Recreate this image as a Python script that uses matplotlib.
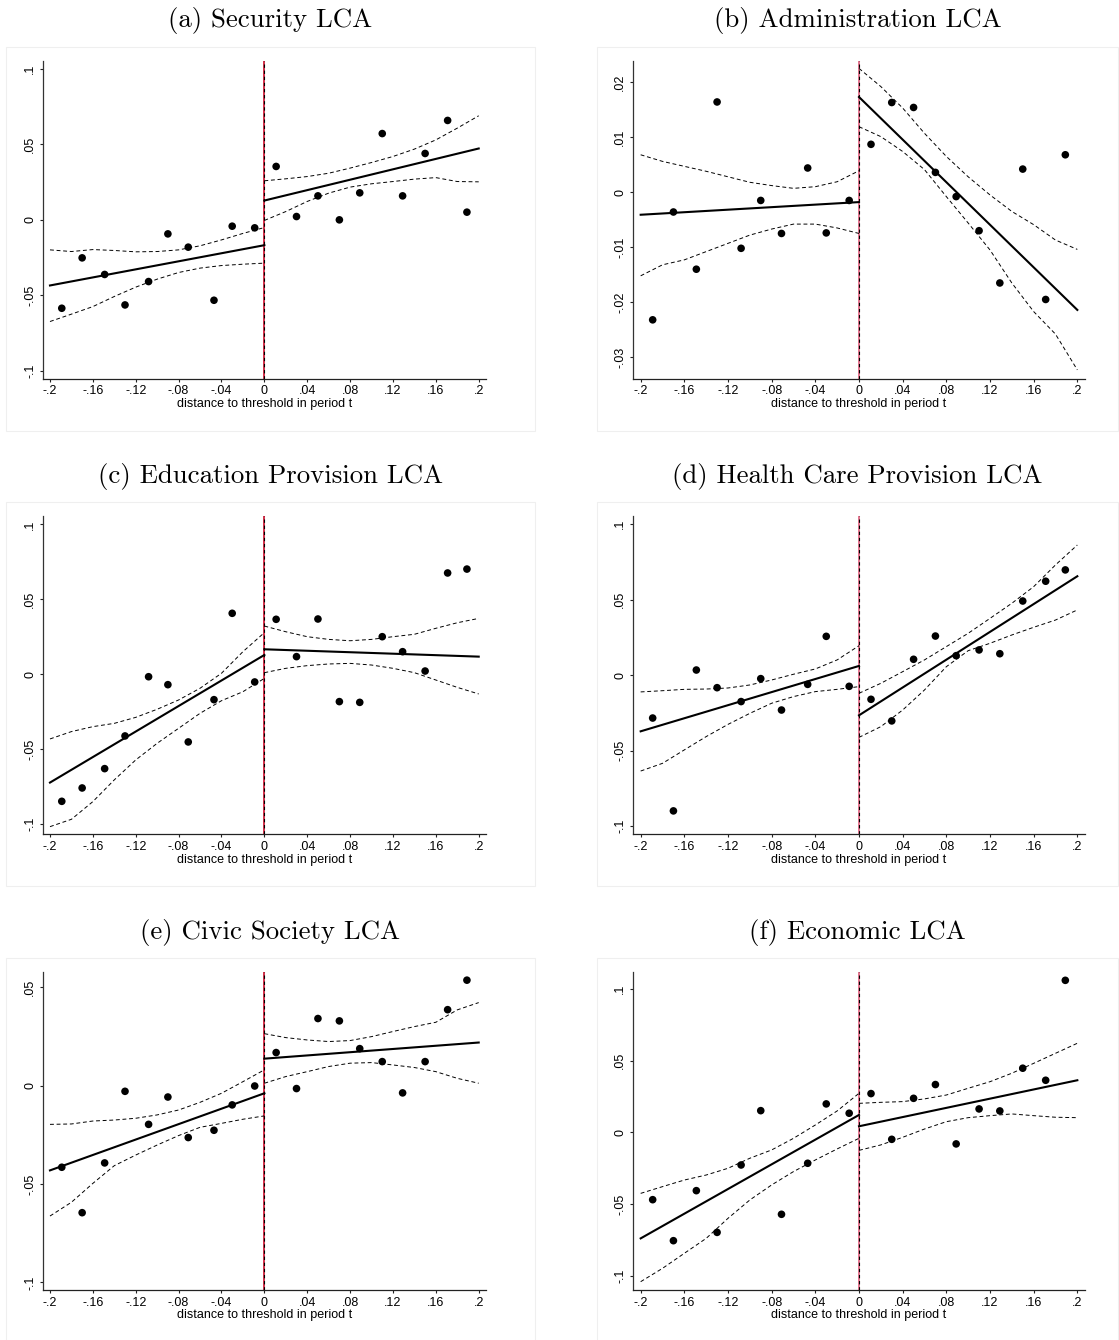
import matplotlib
matplotlib.use("Agg")
import matplotlib.pyplot as plt
from matplotlib.patches import Rectangle

# ---------------- data ----------------
titles = ["(a) Security LCA", "(b) Administration LCA", "(c) Education Provision LCA",
          "(d) Health Care Provision LCA", "(e) Civic Society LCA", "(f) Economic LCA"]
xlabel = "distance to threshold in period t"

bin_x = [-0.189, -0.170, -0.149, -0.130, -0.108, -0.090, -0.071, -0.047, -0.030, -0.009,
         0.011, 0.030, 0.050, 0.070, 0.089, 0.110, 0.129, 0.150, 0.171, 0.189]
fit_x_left = [-0.2, 0.0]
fit_x_right = [0.0, 0.2]
band_x_left = [-0.2, -0.18, -0.16, -0.14, -0.12, -0.10, -0.08, -0.06, -0.04, -0.02, 0.0]
band_x_right = [0.0, 0.02, 0.04, 0.06, 0.08, 0.10, 0.12, 0.14, 0.16, 0.18, 0.2]

x_ticks = [-0.2, -0.16, -0.12, -0.08, -0.04, 0, 0.04, 0.08, 0.12, 0.16, 0.2]
x_ticklabels = ["-.2", "-.16", "-.12", "-.08", "-.04", "0", ".04", ".08", ".12", ".16", ".2"]

# (a) Security
sec_y = [-0.0586, -0.0252, -0.0362, -0.0564, -0.0409, -0.0093, -0.0181, -0.0533, -0.0042, -0.0053,
         0.0354, 0.0022, 0.0159, 0.0000, 0.0179, 0.0572, 0.0159, 0.0440, 0.0659, 0.0051]
sec_fit = [-0.0435, -0.0168, 0.0128, 0.0473]
sec_hi_left = [-0.0199, -0.0210, -0.0197, -0.0203, -0.0212, -0.0210, -0.0199, -0.0172, -0.0133, -0.0090, -0.0051]
sec_lo_left = [-0.0674, -0.0625, -0.0575, -0.0508, -0.0446, -0.0393, -0.0349, -0.0320, -0.0303, -0.0294, -0.0287]
sec_hi_right = [0.0259, 0.0272, 0.0287, 0.0309, 0.0343, 0.0380, 0.0420, 0.0469, 0.0530, 0.0608, 0.0690]
sec_lo_right = [-0.0004, 0.0055, 0.0122, 0.0177, 0.0217, 0.0239, 0.0254, 0.0270, 0.0280, 0.0254, 0.0252]
sec_yticks = [0.1, 0.05, 0, -0.05, -0.1]
sec_yticklabels = [".1", ".05", "0", "-.05", "-.1"]
sec_ylim = (-0.1053, 0.1055)

# (b) Administration
adm_y = [-0.0232, -0.0036, -0.0140, 0.0164, -0.0102, -0.0015, -0.0075, 0.0044, -0.0074, -0.0015,
         0.0087, 0.0163, 0.0154, 0.0036, -0.0008, -0.0070, -0.0165, 0.0042, -0.0195, 0.0068]
adm_fit = [-0.0041, -0.0018, 0.0173, -0.0214]
adm_hi_left = [0.0068, 0.0056, 0.0047, 0.0038, 0.0028, 0.0018, 0.0012, 0.0007, 0.0010, 0.0019, 0.0039]
adm_lo_left = [-0.0152, -0.0132, -0.0123, -0.0108, -0.0093, -0.0078, -0.0067, -0.0058, -0.0058, -0.0065, -0.0075]
adm_hi_right = [0.0225, 0.0192, 0.0153, 0.0107, 0.0065, 0.0028, -0.0005, -0.0035, -0.0059, -0.0087, -0.0104]
adm_lo_right = [0.0119, 0.0101, 0.0074, 0.0041, -0.0008, -0.0056, -0.0105, -0.0165, -0.0217, -0.0258, -0.0323]
adm_yticks = [0.02, 0.01, 0, -0.01, -0.02, -0.03]
adm_yticklabels = [".02", ".01", "0", "-.01", "-.02", "-.03"]
adm_ylim = (-0.0339, 0.0239)

# (c) Education Provision
edu_y = [-0.0847, -0.0758, -0.0629, -0.0411, -0.0016, -0.0069, -0.0451, -0.0169, 0.0407, -0.0051,
         0.0367, 0.0118, 0.0369, -0.0182, -0.0187, 0.0251, 0.0151, 0.0022, 0.0676, 0.0702]
edu_fit = [-0.0722, 0.0129, 0.0167, 0.0118]
edu_hi_left = [-0.0431, -0.0382, -0.0349, -0.0327, -0.0287, -0.0233, -0.0171, -0.0093, 0.0007, 0.0151, 0.0278]
edu_lo_left = [-0.1016, -0.0967, -0.0849, -0.0704, -0.0571, -0.0460, -0.0360, -0.0260, -0.0176, -0.0116, -0.0027]
edu_hi_right = [0.0322, 0.0284, 0.0251, 0.0233, 0.0224, 0.0233, 0.0251, 0.0267, 0.0307, 0.0344, 0.0373]
edu_lo_right = [0.0011, 0.0040, 0.0058, 0.0069, 0.0073, 0.0062, 0.0040, 0.0011, -0.0038, -0.0087, -0.0131]
edu_yticks = [0.1, 0.05, 0, -0.05, -0.1]
edu_yticklabels = [".1", ".05", "0", "-.05", "-.1"]
edu_ylim = (-0.1067, 0.1058)

# (d) Health Care Provision
hea_y = [-0.0283, -0.0898, 0.0035, -0.0082, -0.0174, -0.0022, -0.0230, -0.0060, 0.0258, -0.0073,
         -0.0159, -0.0302, 0.0106, 0.0260, 0.0130, 0.0168, 0.0143, 0.0492, 0.0623, 0.0698]
hea_fit = [-0.0371, 0.0062, -0.0265, 0.0656]
hea_hi_left = [-0.0110, -0.0102, -0.0093, -0.0091, -0.0084, -0.0064, -0.0031, 0.0007, 0.0042, 0.0102, 0.0196]
hea_lo_left = [-0.0634, -0.0583, -0.0494, -0.0406, -0.0325, -0.0252, -0.0185, -0.0141, -0.0108, -0.0093, -0.0075]
hea_hi_right = [-0.0119, -0.0053, 0.0024, 0.0102, 0.0190, 0.0278, 0.0377, 0.0477, 0.0587, 0.0731, 0.0863]
hea_lo_right = [-0.0411, -0.0340, -0.0230, -0.0097, 0.0057, 0.0163, 0.0212, 0.0267, 0.0318, 0.0366, 0.0433]
hea_yticks = [0.1, 0.05, 0, -0.05, -0.1]
hea_yticklabels = [".1", ".05", "0", "-.05", "-.1"]
hea_ylim = (-0.1053, 0.1057)

# (e) Civic Society
civ_y = [-0.0415, -0.0646, -0.0393, -0.0029, -0.0197, -0.0058, -0.0264, -0.0227, -0.0098, -0.0002,
         0.0168, -0.0015, 0.0341, 0.0329, 0.0188, 0.0122, -0.0037, 0.0122, 0.0386, 0.0536]
civ_fit = [-0.0431, -0.0039, 0.0137, 0.0219]
civ_hi_left = [-0.0197, -0.0195, -0.0180, -0.0175, -0.0166, -0.0149, -0.0124, -0.0085, -0.0039, 0.0020, 0.0080]
civ_lo_left = [-0.0663, -0.0593, -0.0497, -0.0407, -0.0353, -0.0302, -0.0254, -0.0212, -0.0192, -0.0171, -0.0154]
civ_hi_right = [0.0264, 0.0244, 0.0232, 0.0224, 0.0229, 0.0249, 0.0275, 0.0300, 0.0322, 0.0385, 0.0422]
civ_lo_right = [0.0012, 0.0046, 0.0071, 0.0097, 0.0114, 0.0117, 0.0105, 0.0092, 0.0071, 0.0037, 0.0012]
civ_yticks = [0.05, 0, -0.05, -0.1]
civ_yticklabels = [".05", "0", "-.05", "-.1"]
civ_ylim = (-0.1039, 0.0576)

# (f) Economic
eco_y = [-0.0470, -0.0756, -0.0407, -0.0698, -0.0228, 0.0151, -0.0572, -0.0216, 0.0198, 0.0133,
         0.0270, -0.0049, 0.0237, 0.0333, -0.0081, 0.0163, 0.0149, 0.0447, 0.0363, 0.1060]
eco_fit = [-0.0740, 0.0121, 0.0042, 0.0363]
eco_hi_left = [-0.0426, -0.0379, -0.0333, -0.0298, -0.0251, -0.0181, -0.0123, -0.0042, 0.0051, 0.0149, 0.0272]
eco_lo_left = [-0.1042, -0.0949, -0.0844, -0.0740, -0.0600, -0.0472, -0.0367, -0.0274, -0.0193, -0.0116, -0.0042]
eco_hi_right = [0.0202, 0.0209, 0.0214, 0.0233, 0.0260, 0.0307, 0.0353, 0.0412, 0.0481, 0.0551, 0.0621]
eco_lo_right = [-0.0126, -0.0088, -0.0035, 0.0023, 0.0074, 0.0102, 0.0116, 0.0128, 0.0116, 0.0105, 0.0102]
eco_yticks = [0.1, 0.05, 0, -0.05, -0.1]
eco_yticklabels = [".1", ".05", "0", "-.05", "-.1"]
eco_ylim = (-0.110, 0.1116)

panels = [
    (sec_y, sec_fit, sec_hi_left, sec_lo_left, sec_hi_right, sec_lo_right, sec_yticks, sec_yticklabels, sec_ylim),
    (adm_y, adm_fit, adm_hi_left, adm_lo_left, adm_hi_right, adm_lo_right, adm_yticks, adm_yticklabels, adm_ylim),
    (edu_y, edu_fit, edu_hi_left, edu_lo_left, edu_hi_right, edu_lo_right, edu_yticks, edu_yticklabels, edu_ylim),
    (hea_y, hea_fit, hea_hi_left, hea_lo_left, hea_hi_right, hea_lo_right, hea_yticks, hea_yticklabels, hea_ylim),
    (civ_y, civ_fit, civ_hi_left, civ_lo_left, civ_hi_right, civ_lo_right, civ_yticks, civ_yticklabels, civ_ylim),
    (eco_y, eco_fit, eco_hi_left, eco_lo_left, eco_hi_right, eco_lo_right, eco_yticks, eco_yticklabels, eco_ylim),
]

# ---------------- layout ----------------
W, H = 1119, 1340
fig = plt.figure(figsize=(W / 100, H / 100), dpi=100)
fig.patch.set_facecolor("white")

sans = ["Liberation Sans", "DejaVu Sans"]
col_left_px = [42.7, 632.7]
col_width_px = [443.3, 452.6]
col_xlim = [(-0.2068, 0.2068), (-0.2073, 0.2073)]
row_top_px = [60.7, 515.7, 972.3]
row_bot_px = [378.7, 834.3, 1290.0]
frame_x = [(6, 535), (597, 1118)]
frame_y = [(47, 431), (502, 886), (958, 1341)]
title_y_px = [21, 477, 932]
vline_colors = ["#d0203c", "#e06a86"]
tick_fs = 9.0

for i, (yv, fit, hl, ll, hr, lr, yt, ytl, ylim) in enumerate(panels):
    r, c = divmod(i, 2)
    # faint panel frame
    fx0, fx1 = frame_x[c]
    fy0, fy1 = frame_y[r]
    fig.patches.append(Rectangle((fx0 / W, 1 - fy1 / H), (fx1 - fx0) / W, (fy1 - fy0) / H,
                                 transform=fig.transFigure, fill=False,
                                 edgecolor="#efefef", linewidth=0.8, zorder=0))
    # title
    fig.text(((fx0 + fx1) / 2) / W, 1 - title_y_px[r] / H, titles[i],
             ha="center", va="center", fontsize=19.3, family="cmr10")

    left = col_left_px[c] / W
    bottom = 1 - row_bot_px[r] / H
    width = col_width_px[c] / W
    height = (row_bot_px[r] - row_top_px[r]) / H
    ax = fig.add_axes([left, bottom, width, height])
    ax.set_xlim(*col_xlim[c])
    ax.set_ylim(*ylim)

    # cutoff line
    ax.axvline(0, color=vline_colors[c], lw=1.3, zorder=1)
    ax.axvline(0, color="black", lw=0.8, ls=(0, (3, 2.5)), zorder=2)

    # confidence bands
    dash = (0, (4, 2.8))
    ax.plot(band_x_left, hl, color="black", lw=0.7, ls=dash, zorder=3)
    ax.plot(band_x_left, ll, color="black", lw=0.7, ls=dash, zorder=3)
    ax.plot(band_x_right, hr, color="black", lw=0.7, ls=dash, zorder=3)
    ax.plot(band_x_right, lr, color="black", lw=0.7, ls=dash, zorder=3)

    # fitted lines
    ax.plot(fit_x_left, fit[:2], color="black", lw=1.5, zorder=4)
    ax.plot(fit_x_right, fit[2:], color="black", lw=1.5, zorder=4)

    # binned means
    ax.scatter(bin_x, yv, s=30, color="black", edgecolors="none", zorder=5)

    # axes styling
    for s in ["top", "right"]:
        ax.spines[s].set_visible(False)
    ax.spines["left"].set_color("#333333")
    ax.spines["bottom"].set_color("#222222")
    ax.spines["left"].set_linewidth(0.9)
    ax.spines["bottom"].set_linewidth(0.9)

    ax.set_xticks(x_ticks)
    ax.set_xticklabels(x_ticklabels, family=sans, fontsize=tick_fs)
    ax.set_yticks(yt)
    ax.set_yticklabels(ytl, family=sans, fontsize=tick_fs, rotation=90, va="center")
    ax.tick_params(axis="both", direction="out", length=2.5, width=0.8, color="#222222", pad=2.3)
    ax.set_xlabel(xlabel, family=sans, fontsize=tick_fs, labelpad=0.5)
    ax.set_facecolor("white")

fig.savefig("out.png", dpi=100, facecolor="white")
